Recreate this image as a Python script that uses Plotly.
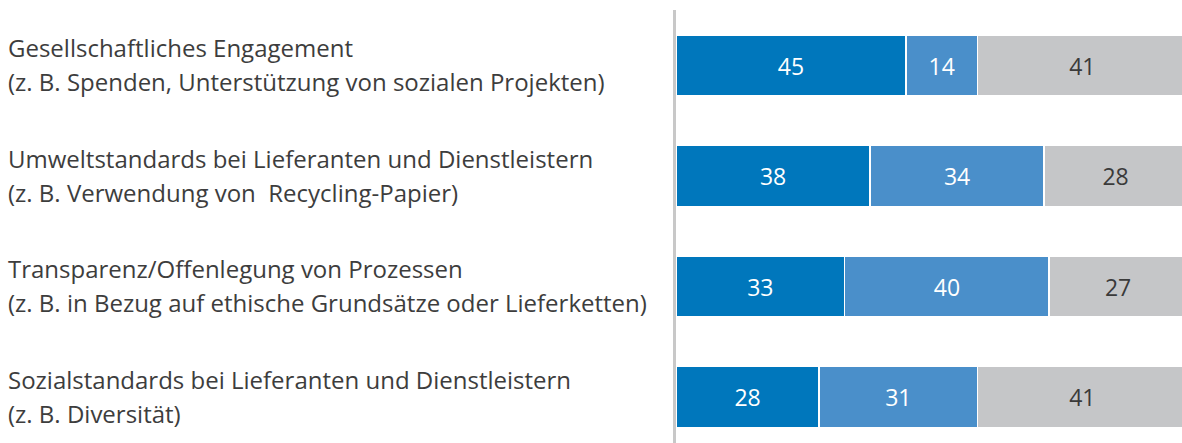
import plotly.graph_objects as go

categories = [
    "Gesellschaftliches Engagement",
    "Umweltstandards bei Lieferanten und Dienstleistern",
    "Transparenz/Offenlegung von Prozessen",
    "Sozialstandards bei Lieferanten und Dienstleistern",
]
subtitles = [
    "(z. B. Spenden, Unterstützung von sozialen Projekten)",
    "(z. B. Verwendung von  Recycling-Papier)",
    "(z. B. in Bezug auf ethische Grundsätze oder Lieferketten)",
    "(z. B. Diversität)",
]
series_a = [45, 38, 33, 28]
series_b = [14, 34, 40, 31]
series_c = [41, 28, 27, 41]

colors = ["#0077BC", "#4A8FCA", "#C5C6C8"]
text_colors = ["#FFFFFF", "#FFFFFF", "#3A3A3A"]
FONT = "Open Sans"

W, H = 1182, 443
fig = go.Figure()
for vals, col, tcol in zip([series_a, series_b, series_c], colors, text_colors):
    fig.add_trace(go.Bar(
        y=categories, x=vals, orientation="h",
        marker=dict(color=col, line=dict(color="#FFFFFF", width=1.5)),
        width=0.55,
        text=[str(v) for v in vals],
        textposition="inside", insidetextanchor="middle", textangle=0,
        constraintext="none",
        textfont=dict(family=FONT, size=23, color=tcol),
        hoverinfo="skip",
    ))

for cat, sub in zip(categories, subtitles):
    fig.add_annotation(x=6 / W, xref="paper", y=cat, yref="y", text=cat,
                       xanchor="left", yanchor="middle", showarrow=False,
                       yshift=18, font=dict(family=FONT, size=24, color="#3D3D3D"))
    fig.add_annotation(x=6 / W, xref="paper", y=cat, yref="y", text=sub,
                       xanchor="left", yanchor="middle", showarrow=False,
                       yshift=-16, font=dict(family=FONT, size=24, color="#3D3D3D"))

fig.add_shape(type="line", xref="paper", yref="paper",
              x0=674.5 / W, x1=674.5 / W, y0=0, y1=1 - 10 / H,
              line=dict(color="#C8C8C8", width=3))

fig.update_layout(
    width=W, height=H, barmode="stack", showlegend=False,
    margin=dict(l=0, r=0, t=0, b=0),
    plot_bgcolor="white", paper_bgcolor="white",
    xaxis=dict(domain=[676 / W, 1], range=[0, 99], visible=False, fixedrange=True),
    yaxis=dict(type="category", categoryorder="array", categoryarray=categories,
               range=[3.416, -0.593], visible=False, fixedrange=True),
    bargap=0.45,
)
fig.write_html(
    "out.html",
    config={"displayModeBar": False, "staticPlot": True},
    post_script="document.body.style.margin='0';document.body.style.overflow='hidden';",
)
